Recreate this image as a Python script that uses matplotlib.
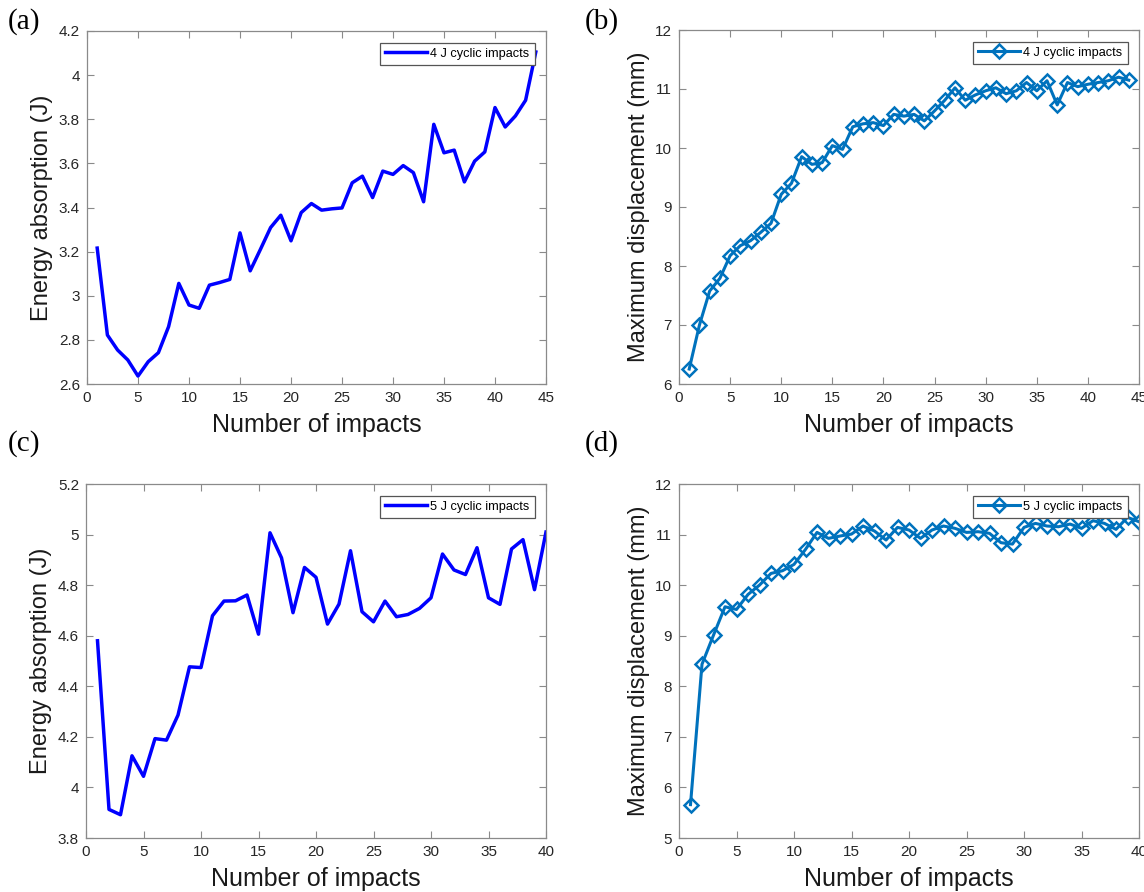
import matplotlib
matplotlib.use("Agg")
import matplotlib.pyplot as plt
import numpy as np

plt.rcParams['font.family'] = ['Liberation Sans', 'DejaVu Sans']

# Data
impacts_4j = np.arange(1, 45)
energy_4j = [3.216, 2.822, 2.754, 2.709, 2.636, 2.701, 2.742, 2.860, 3.056, 2.958,
             2.943, 3.048, 3.060, 3.074, 3.285, 3.113, 3.210, 3.309, 3.365, 3.249,
             3.377, 3.418, 3.388, 3.394, 3.398, 3.512, 3.542, 3.445, 3.565, 3.550,
             3.590, 3.558, 3.426, 3.777, 3.648, 3.660, 3.516, 3.610, 3.652, 3.853,
             3.765, 3.815, 3.886, 4.105]
disp_4j = [6.254, 7.00, 7.576, 7.791, 8.175, 8.345, 8.429, 8.571, 8.723, 9.215,
           9.401, 9.853, 9.723, 9.751, 10.04, 9.977, 10.36, 10.41, 10.43, 10.38,
           10.57, 10.54, 10.57, 10.46, 10.63, 10.81, 11.02, 10.81, 10.90, 10.97,
           11.02, 10.92, 10.97, 11.11, 10.97, 11.14, 10.73, 11.11, 11.04, 11.08,
           11.11, 11.14, 11.20, 11.15]

impacts_5j = np.arange(1, 41)
energy_5j = [4.580, 3.913, 3.892, 4.125, 4.044, 4.193, 4.187, 4.286, 4.477, 4.474,
             4.679, 4.737, 4.738, 4.761, 4.606, 5.007, 4.908, 4.691, 4.870, 4.831,
             4.646, 4.725, 4.936, 4.695, 4.655, 4.737, 4.675, 4.684, 4.708, 4.750,
             4.923, 4.860, 4.842, 4.948, 4.750, 4.724, 4.943, 4.980, 4.782, 5.010]
disp_5j = [5.660, 8.437, 9.011, 9.572, 9.519, 9.816, 10.001, 10.232, 10.285, 10.410,
           10.707, 11.043, 10.925, 10.971, 11.010, 11.169, 11.070, 10.892, 11.142, 11.090,
           10.925, 11.090, 11.169, 11.123, 11.043, 11.057, 11.024, 10.839, 10.812, 11.142,
           11.221, 11.169, 11.155, 11.208, 11.123, 11.274, 11.221, 11.103, 11.340, 11.254]

W, H = 1144, 892
fig = plt.figure(figsize=(W / 100, H / 100), dpi=100)


def make_axes(x0, y0, x1, y1):
    return fig.add_axes([x0 / W, 1 - y1 / H, (x1 - x0) / W, (y1 - y0) / H])


def style(ax, xmax, ylim, yticks, ylabel):
    ax.set_xlim(0, xmax)
    ax.set_ylim(*ylim)
    ax.set_xticks(np.arange(0, xmax + 1, 5))
    ax.set_yticks(yticks)
    ax.set_yticklabels([f"{t:g}" for t in yticks])
    ax.tick_params(direction='in', top=True, right=True, length=5, width=0.8,
                   color='#8a8a8a', labelcolor='#262626', labelsize=11, pad=5)
    for s in ax.spines.values():
        s.set_color('#8a8a8a')
        s.set_linewidth(0.9)
    ax.set_xlabel('Number of impacts', fontsize=18, color='#1a1a1a', labelpad=6)
    ax.set_ylabel(ylabel, fontsize=17, color='#1a1a1a', labelpad=4)


def add_legend(ax):
    leg = ax.legend(loc='upper right', fontsize=9.2, handlelength=3.3, fancybox=False,
                    borderaxespad=0.9, borderpad=0.4, handletextpad=0.25,
                    framealpha=1)
    leg.get_frame().set_edgecolor('#555555')
    leg.get_frame().set_linewidth(0.9)


mat_blue = '#0072BD'

# (a)
ax = make_axes(87, 31, 546, 384)
ax.plot(impacts_4j, energy_4j, color='#0000FF', lw=2.5, label='4 J cyclic impacts')
style(ax, 45, (2.6, 4.2), np.round(np.arange(2.6, 4.21, 0.2), 1), 'Energy absorption (J)')
add_legend(ax)

# (b)
ax = make_axes(679, 30, 1139, 384)
ax.plot(impacts_4j, disp_4j, color=mat_blue, lw=2.2, marker='D', ms=7.2, mfc='none',
        mew=1.8, label='4 J cyclic impacts')
style(ax, 45, (6, 12), np.arange(6, 13, 1), 'Maximum displacement (mm)')
add_legend(ax)

# (c)
ax = make_axes(86, 484, 546, 838)
ax.plot(impacts_5j, energy_5j, color='#0000FF', lw=2.5, label='5 J cyclic impacts')
style(ax, 40, (3.8, 5.2), np.round(np.arange(3.8, 5.21, 0.2), 1), 'Energy absorption (J)')
add_legend(ax)

# (d)
ax = make_axes(679, 484, 1139, 838)
ax.plot(impacts_5j, disp_5j, color=mat_blue, lw=2.2, marker='D', ms=7.2, mfc='none',
        mew=1.8, label='5 J cyclic impacts')
style(ax, 40, (5, 12), np.arange(5, 13, 1), 'Maximum displacement (mm)')
add_legend(ax)

# panel letters
for lab, x, y in [('(a)', 8, 22), ('(b)', 585, 22), ('(c)', 8, 444), ('(d)', 585, 444)]:
    fig.text(x / W, 1 - y / H, lab, fontsize=21, family='Liberation Serif',
             ha='left', va='center', color='black')

fig.savefig('out.png', dpi=100)
